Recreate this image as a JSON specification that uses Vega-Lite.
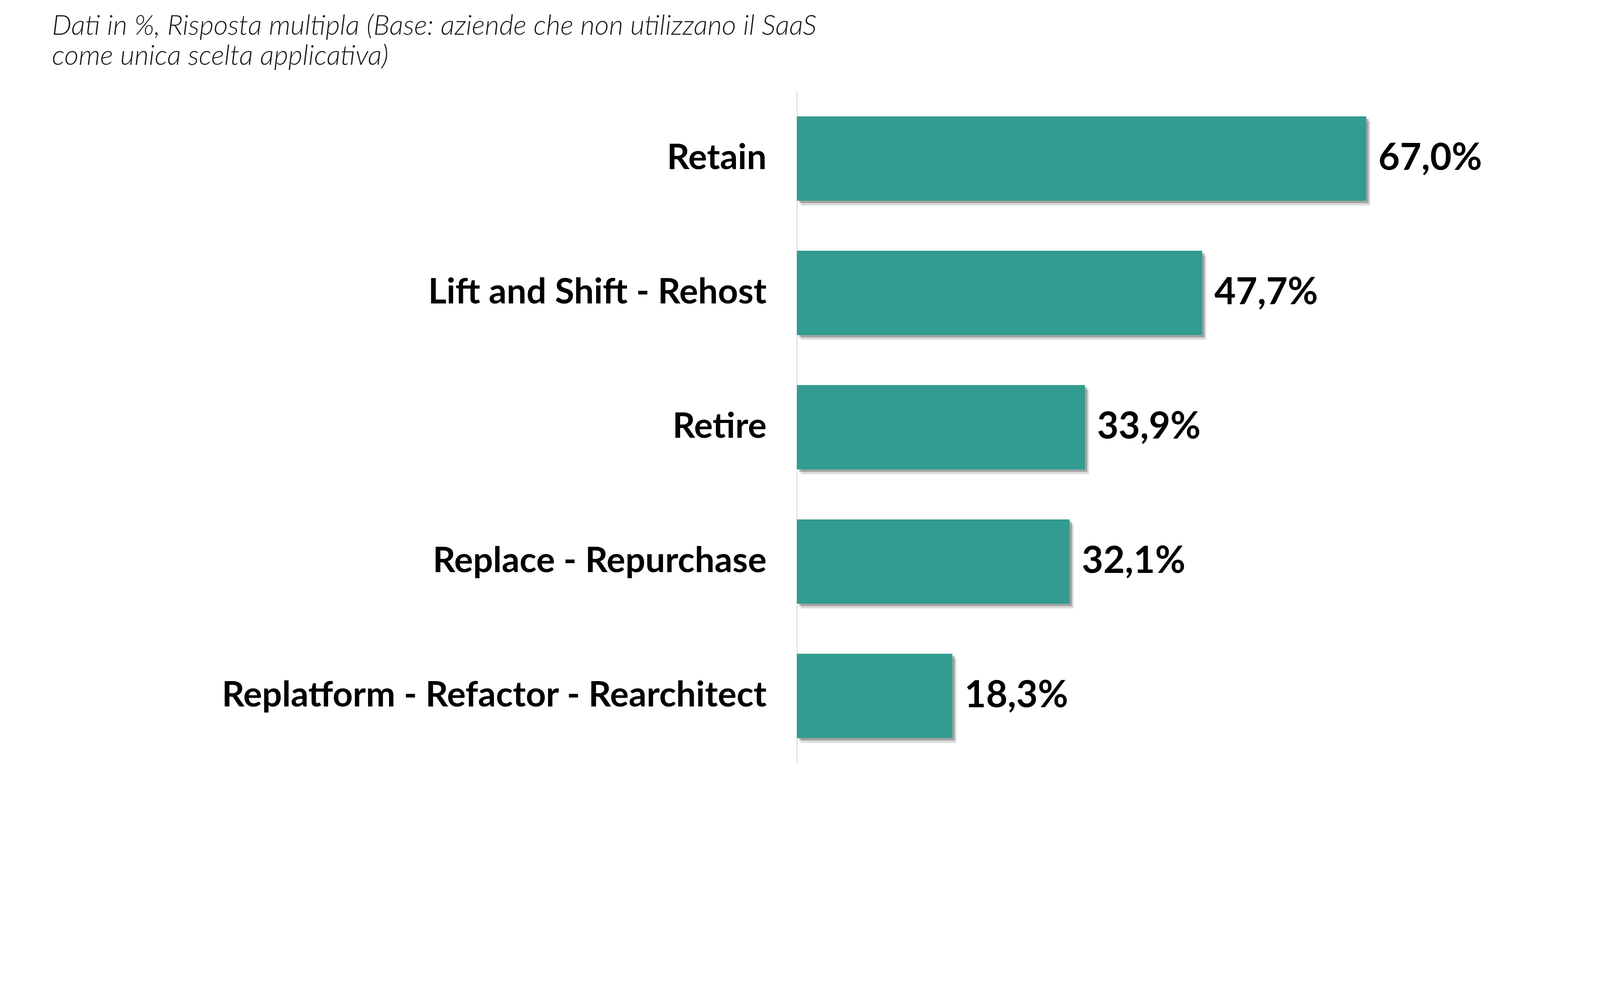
{
  "$schema": "https://vega.github.io/schema/vega-lite/v6.json",
  "width": 1958,
  "height": 1720,
  "autosize": {"type": "none"},
  "padding": {"left": 2040, "top": 234, "right": 86, "bottom": 92},
  "background": "white",
  "title": {
    "text": ["Dati in %, Risposta multipla (Base: aziende che non utilizzano il SaaS", "come unica scelta applicativa)"],
    "anchor": "start",
    "frame": "group",
    "orient": "top",
    "offset": 53,
    "dx": -1907,
    "font": "Lato",
    "fontSize": 71,
    "fontStyle": "italic",
    "fontWeight": 300,
    "color": "#1a1a1a",
    "lineHeight": 77
  },
  "data": {
    "values": [
      {"categoria": "Retain", "valore": 0.670},
      {"categoria": "Lift and Shift - Rehost", "valore": 0.477},
      {"categoria": "Retire", "valore": 0.339},
      {"categoria": "Replace - Repurchase", "valore": 0.321},
      {"categoria": "Replatform - Refactor - Rearchitect", "valore": 0.183}
    ]
  },
  "encoding": {
    "y": {
      "field": "categoria",
      "type": "nominal",
      "sort": null,
      "scale": {"paddingInner": 0.372, "paddingOuter": 0.186},
      "axis": {
        "title": null,
        "ticks": false,
        "domainColor": "#d9d9d9",
        "domainWidth": 2.4,
        "labelFont": "Lato",
        "labelFontWeight": "bold",
        "labelFontSize": 90,
        "labelColor": "#000000",
        "labelPadding": 78,
        "labelLimit": 3000
      }
    },
    "x": {
      "field": "valore",
      "type": "quantitative",
      "scale": {"domain": [0, 0.9]},
      "axis": null
    }
  },
  "layer": [
    {"mark": {"type": "bar", "color": "#000000", "opacity": 0.14, "xOffset": 10, "yOffset": 12}},
    {"mark": {"type": "bar", "color": "#000000", "opacity": 0.26, "xOffset": 6, "yOffset": 6}},
    {"mark": {"type": "bar", "color": "#319c8f"}},
    {
      "mark": {"type": "text", "align": "left", "baseline": "middle", "dx": 31, "font": "Lato", "fontWeight": "bold", "fontSize": 95, "color": "#000000"},
      "encoding": {"text": {"field": "valore", "type": "quantitative", "format": ".1%"}}
    }
  ],
  "config": {
    "view": {"stroke": null},
    "locale": {"number": {"decimal": ",", "thousands": ".", "grouping": [3], "currency": ["€", ""]}}
  }
}
